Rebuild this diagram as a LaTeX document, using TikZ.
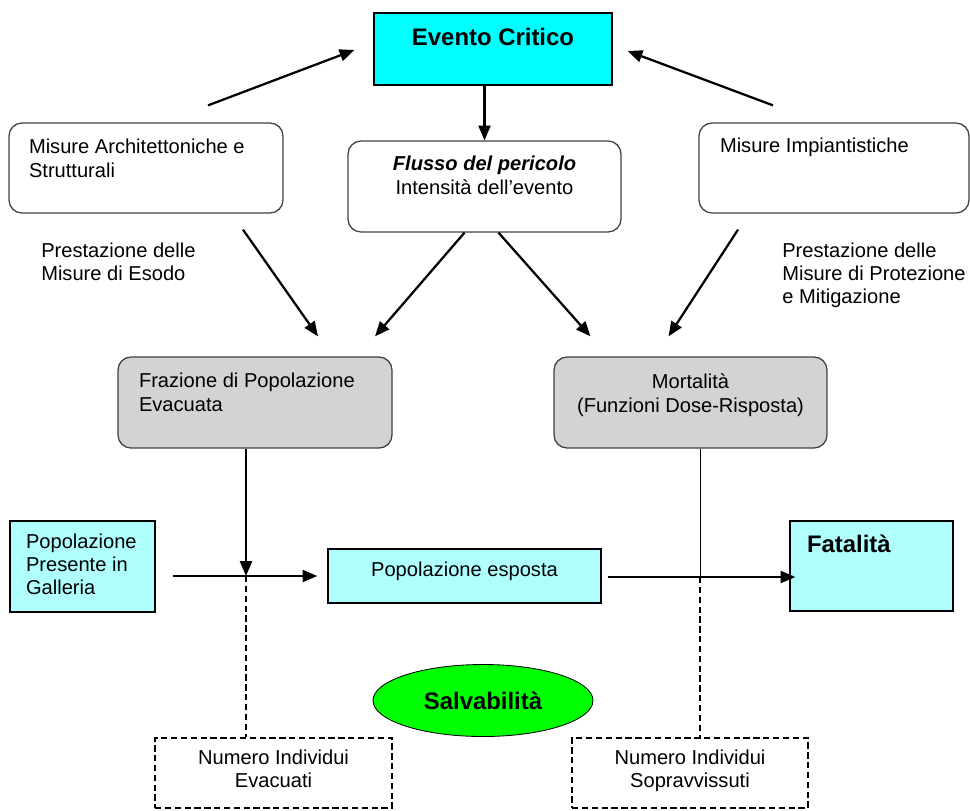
\documentclass[tikz,border=0pt]{standalone}
\usepackage{fontspec}
\setmainfont{Liberation Sans}
\usetikzlibrary{arrows.meta,calc,shapes.geometric}

\newlength{\pxu}\setlength{\pxu}{0.025cm}
\definecolor{critCyan}{RGB}{0,255,255}
\definecolor{paleCyan}{RGB}{175,255,255}
\definecolor{boxGray}{RGB}{211,211,211}
\definecolor{salvGreen}{RGB}{0,255,0}
\newcommand{\bigbf}{\bfseries\fontsize{17}{20}\selectfont}
% height, width, alignment/font, top gap, text
\newcommand{\boxtxt}[5]{\parbox[c][#1\pxu][t]{#2\pxu}{#3\vspace*{#4\pxu}\rule{0pt}{0.8em}#5}}

\begin{document}
\begin{tikzpicture}[x=0.025cm, y=-0.025cm,
  font=\fontsize{14.3}{16.4}\selectfont, >={Triangle[length=10.5pt, width=8.5pt]},
  box/.style={draw, inner sep=0pt, line width=0.9pt},
  rbox/.style={box, draw=black!75, rounded corners=13\pxu},
  crit/.style={box, fill=critCyan},
  cbox/.style={box, fill=paleCyan},
  gbox/.style={rbox, fill=boxGray},
  dbox/.style={box, line width=1.5pt, dash pattern=on 4.5pt off 2.5pt},
  salvo/.style={ellipse, draw, fill=salvGreen, line width=0.6pt, inner sep=0pt,
    minimum width=220\pxu, minimum height=72\pxu},
  lbl/.style={align=left, inner sep=0pt, anchor=north west},
  flow/.style={->, line width=1.6pt},
  dline/.style={line width=1.5pt, dash pattern=on 4.5pt off 2.5pt},
]
\useasboundingbox (0,0) rectangle (970,810);
% ---- top row ----
\node[crit, minimum width=238\pxu] (evento) at (493,49)
  {\boxtxt{72}{218}{\centering\bigbf}{12.9}{Evento Critico}};
\node[rbox, minimum width=274\pxu] (arch) at (146,168)
  {\boxtxt{90}{234}{\raggedright}{14.9}{Misure Architettoniche e\\Strutturali}};
\node[rbox, minimum width=273\pxu] (flusso) at (484.5,186.5)
  {\boxtxt{91}{253}{\centering}{13.9}{\textbf{\textit{Flusso del pericolo}}\\Intensità dell’evento}};
\node[rbox, minimum width=270\pxu] (impian) at (834,168)
  {\boxtxt{90}{228}{\raggedright}{13.9}{Misure Impiantistiche}};
% ---- performance labels ----
\node[lbl] (esodo) at (41,242.5) {Prestazione delle\\Misure di Esodo};
\node[lbl] (protez) at (782,242.5) {Prestazione delle\\Misure di Protezione\\e Mitigazione};
% ---- gray row ----
\node[gbox, minimum width=274\pxu] (fraz) at (255,402.5)
  {\boxtxt{91}{232}{\raggedright}{14.9}{Frazione di Popolazione\\Evacuata}};
\node[gbox, minimum width=273\pxu] (mort) at (690.5,402.5)
  {\boxtxt{91}{253}{\centering}{15.9}{Mortalità\\(Funzioni Dose-Risposta)}};
% ---- population row ----
\node[cbox, minimum width=145\pxu] (pres) at (82.5,566.5)
  {\boxtxt{91}{113}{\raggedright}{10.9}{Popolazione\\Presente in\\Galleria}};
\node[cbox, minimum width=273\pxu] (esposta) at (464.5,576)
  {\boxtxt{54}{253}{\centering}{10.9}{Popolazione esposta}};
\node[cbox, minimum width=163\pxu] (fat) at (871.5,566)
  {\boxtxt{90}{129}{\raggedright\bigbf}{11.9}{Fatalità}};
% ---- outcome ----
\node[salvo] (salv) at (483,700.5) {\bigbf Salvabilità};
\node[dbox, minimum width=237\pxu] (evac) at (273.5,773)
  {\boxtxt{70}{217}{\centering}{9.9}{Numero Individui\\Evacuati}};
\node[dbox, minimum width=236\pxu] (sopr) at (690,773)
  {\boxtxt{70}{216}{\centering}{9.9}{Numero Individui\\Sopravvissuti}};
\coordinate (jl) at (246,576);
\coordinate (jr) at (700,577);
% ---- arrows ----
\draw[flow] ($(arch.north)+(62,-17)$) -- ($(evento.west)+(-19,1)$);
\draw[flow] ($(impian.north)+(-61,-17)$) -- ($(evento.east)+(15,2)$);
\draw[flow] (evento.south -| flusso.north) -- (flusso.north);
\draw[flow] ($(arch.south)+(97,16)$) -- ($(fraz.north)+(63,-20)$);
\draw[flow] ($(flusso.south)+(-20,0)$) -- ($(fraz.north)+(120,-20)$);
\draw[flow] ($(flusso.south)+(14,0)$) -- ($(mort.north)+(-100,-20)$);
\draw[flow] ($(impian.south)+(-96,16)$) -- ($(mort.north)+(-22,-20)$);
\draw[flow] (fraz.south -| jl) -- (jl);
\draw[flow, shorten >=10\pxu] ([xshift=17\pxu]pres.east |- jl) -- (esposta.west |- jl);
\draw[line width=0.7pt] (mort.south -| jr) -- (jr);
\draw[flow, shorten >=-6\pxu] ([xshift=6\pxu]esposta.east |- jr) -- (fat.west |- jr);
\draw[dline] (jl) -- (jl |- evac.north);
\draw[dline] (jr) -- (jr |- sopr.north);
\end{tikzpicture}
\end{document}
